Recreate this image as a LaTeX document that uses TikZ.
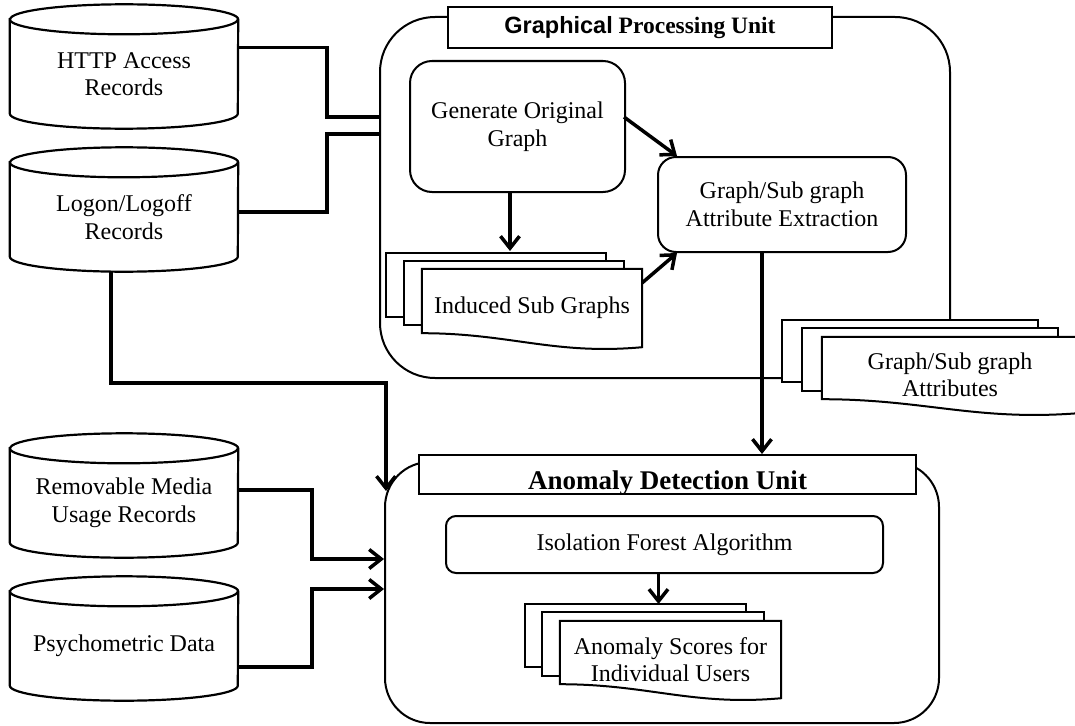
\documentclass[tikz,border=0pt]{standalone}
\usepackage{fontspec}
\setmainfont{Liberation Serif}
\setsansfont{Liberation Sans}
\usetikzlibrary{calc,arrows.meta}
\tikzset{
	txt/.style={align=center, inner sep=0pt, font=\fontsize{24}{27.5}\selectfont},
	proc/.style={txt, draw, line width=2pt},
	unit/.style={draw, line width=2pt},
	titlebox/.style={draw, fill=white, line width=2pt, inner sep=0pt},
	dbbox/.style={txt, minimum width=228, minimum height=109},
	page/.style={draw, fill=white, line width=2pt},
	link/.style={line width=3.5pt},
	arrow/.style={link, -{Straight Barb[length=12pt,width=19pt]}}
}
\def\dbcyl#1{%
	\draw[line width=2.2pt] (#1.north west) -- ([shift={(0,-15)}]#1.south west)
		arc[start angle=180, end angle=360, x radius=114pt, y radius=15pt]
		-- (#1.north east)
		arc[start angle=0, end angle=180, x radius=114pt, y radius=15pt] -- cycle;
	\draw[line width=2.2pt] (#1.north west)
		arc[start angle=180, end angle=360, x radius=114pt, y radius=15pt];
}
\def\pagestack#1#2#3{%
	\foreach \k in {2,1}
		\draw[page] ([shift={(-#2*\k,-#3*\k)}]#1.north west) rectangle ([shift={(-#2*\k,-#3*\k-14)}]#1.south east);
	\draw[page] (#1.north west) -- (#1.north east) -- (#1.south east)
		.. controls ($(#1.south west)!0.6!(#1.south east)+(0,8)$) and ($(#1.south west)!0.4!(#1.south east)+(0,-14)$)
		.. ([shift={(0,-14)}]#1.south west) -- cycle;
}

\begin{document}
\begin{tikzpicture}[x=1pt, y=-1pt]
	%%%%% START %%%%%
	\useasboundingbox (0,0) rectangle (1075,725);
	
	\node[dbbox] (http) at (124,74) {HTTP Access\\Records};
	\node[dbbox] (logon) at (124,217) {Logon/Logoff\\Records};
	\node[dbbox] (rem) at (124,503) {Removable Media\\Usage Records};
	\node[dbbox] (psy) at (124,646) {Psychometric Data};
	\dbcyl{http}
	\dbcyl{logon}
	\dbcyl{rem}
	\dbcyl{psy}
	
	\node[unit, rounded corners=55pt, minimum width=570, minimum height=361] (gpu) at (665,197.5) {};
	\node[titlebox, minimum width=384, minimum height=41, font=\fontsize{23.5}{26}\selectfont\bfseries] (gputitle) at (640,27.5) {{\sffamily Graphical} Processing Unit};
	
	\node[proc, rounded corners=22pt, minimum width=215, minimum height=131] (gen) at (517.5,126.5) {Generate Original\\Graph};
	\node[proc, rounded corners=18pt, minimum width=248, minimum height=95] (gae) at (782,204.5) {Graph/Sub graph\\Attribute Extraction};
	
	\node[minimum width=220, minimum height=78, inner sep=0pt] (ind) at (532,308) {};
	\pagestack{ind}{18}{8}
	\node[txt] (indlbl) at (ind) {Induced Sub Graphs};
	
	\node[minimum width=256, minimum height=76, inner sep=0pt] (attr) at (950,375) {};
	\pagestack{attr}{20}{8.5}
	\node[txt] (attrlbl) at (attr) {Graph/Sub graph\\Attributes};
	
	\node[unit, rounded corners=45pt, minimum width=554, minimum height=261] (adu) at (662,592.5) {};
	\node[titlebox, minimum width=497, minimum height=39] (adutitle) at (667.5,474.5) {};
	\begin{scope}
		\clip (adutitle.south west) rectangle (adutitle.north east);
		\node[anchor=base, inner sep=0pt, font=\fontsize{27}{30}\selectfont\bfseries] (adulbl) at (667.5,489) {Anomaly Detection Unit};
	\end{scope}
	
	\node[proc, rounded corners=10pt, minimum width=437, minimum height=57] (iso) at (664.5,544.5) {Isolation Forest Algorithm};
	
	\node[minimum width=221, minimum height=77, inner sep=0pt] (score) at (670.5,659.5) {};
	\pagestack{score}{17.5}{8.5}
	\node[txt] (scorelbl) at (score) {Anomaly Scores for\\Individual Users};
	
	\draw[link] ([shift={(0,28)}]http.north east) -- ++(89,0) |- ([shift={(0,101)}]gpu.north west);
	\draw[link] ([shift={(0,49.5)}]logon.north east) -- ++(89,0) |- ([shift={(0,118)}]gpu.north west);
	\draw[arrow] ([xshift=-13pt]logon.south) -- ++(0,111.5) -| ([shift={(2,30)}]adu.north west);
	\draw[arrow] ([shift={(0,41.5)}]rem.north east) -- ++(74,0) |- ([shift={(0,98)}]adu.north west);
	\draw[arrow] ([shift={(0,75.5)}]psy.north east) -- ++(74,0) |- ([shift={(0,128)}]adu.north west);
	
	\coordinate (genout) at ([xshift=-7.5pt]gen.south);
	\coordinate (gaeout) at ([xshift=-20pt]gae.south);
	\draw[arrow] ([shift={(-2,-9.5)}]gen.east) -- ([xshift=20pt]gae.north west);
	\draw[arrow] (genout) -- ++(0,58);
	\draw[arrow] ([shift={(0,14)}]ind.north east) -- ([xshift=20pt]gae.south west);
	\draw[arrow] (gaeout) -- (gaeout |- adutitle.north);
	\draw[arrow] ([xshift=-6pt]iso.south) -- ++(0,30);
	%%%%% END %%%%%
\end{tikzpicture}
\end{document}
